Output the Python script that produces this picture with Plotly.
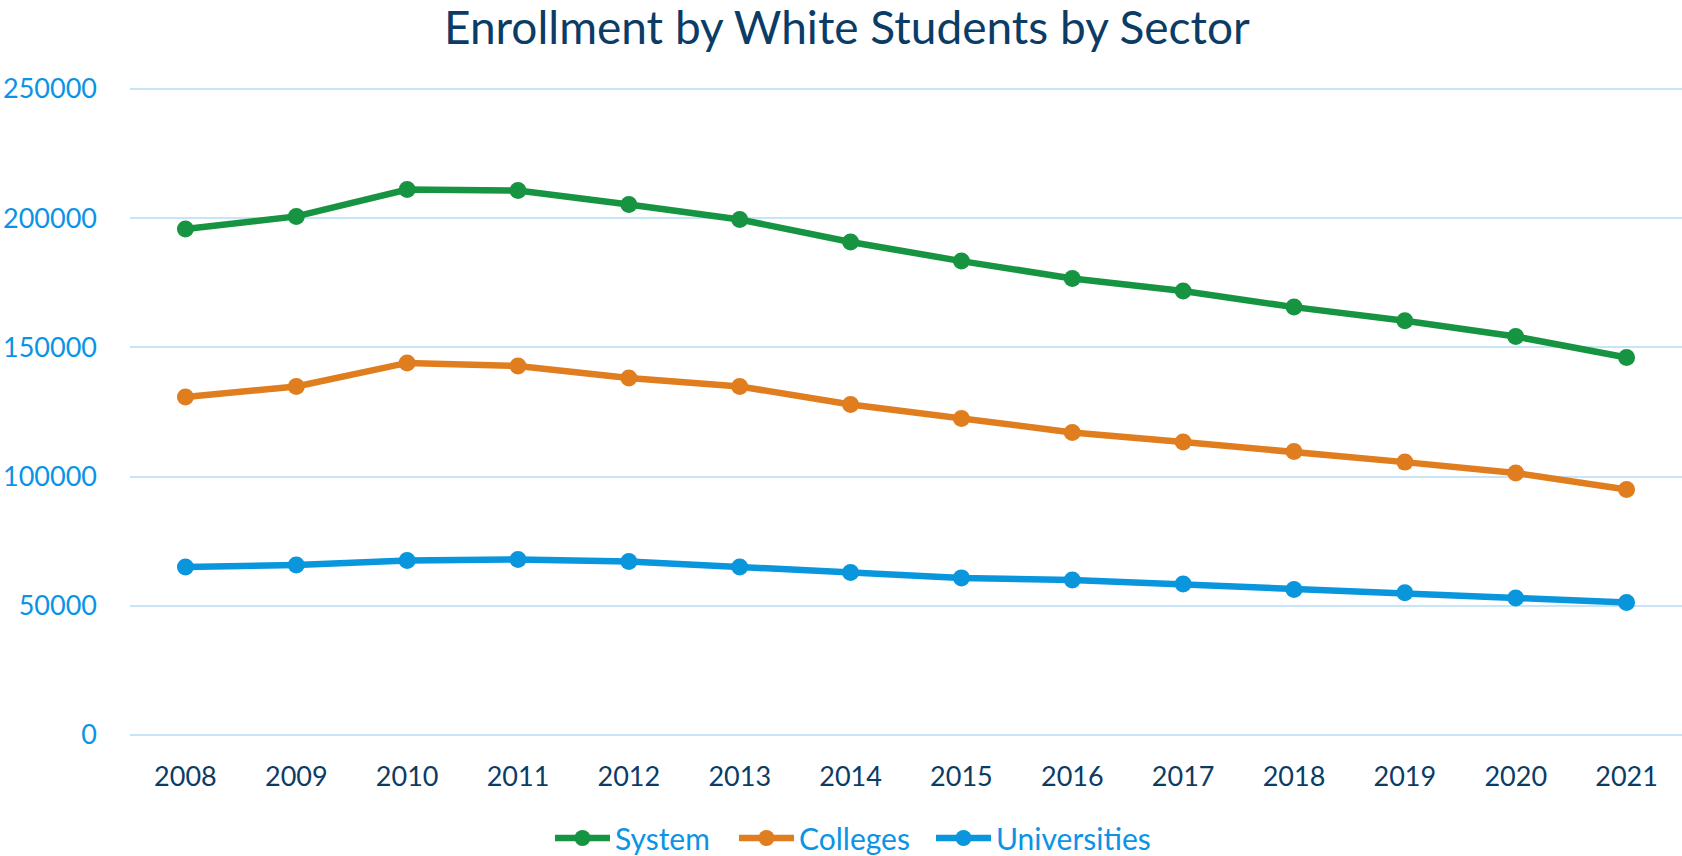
import plotly.graph_objects as go

years = ["2008", "2009", "2010", "2011", "2012", "2013", "2014",
         "2015", "2016", "2017", "2018", "2019", "2020", "2021"]
system = [195800, 200700, 211100, 210700, 205300, 199500, 190800,
          183400, 176700, 171800, 165600, 160300, 154200, 146100]
colleges = [130800, 134900, 144000, 142800, 138200, 134900, 127900,
            122500, 117100, 113400, 109700, 105600, 101400, 95000]
universities = [65000, 65800, 67500, 67900, 67100, 65000, 62900,
                60800, 60000, 58400, 56300, 55000, 53000, 51300]
y_ticks = [0, 50000, 100000, 150000, 200000, 250000]

series = [("System", system, "#179441", "legend", 550),
          ("Colleges", colleges, "#E07D1F", "legend2", 734),
          ("Universities", universities, "#0A96DC", "legend3", 931)]

FONT = "Lato"
NAVY = "#0B3C66"
BLUE = "#0A94E6"

W, H = 1682, 856

fig = go.Figure()
for name, vals, color, lg, _ in series:
    fig.add_trace(go.Scatter(
        x=years, y=vals, name=name, mode="lines+markers",
        line=dict(color=color, width=6.5),
        marker=dict(color=color, size=17),
        legend=lg,
    ))

legend_common = dict(orientation="h", xref="container", yref="container",
                     xanchor="left", y=1 - 838 / H, yanchor="middle",
                     font=dict(family=FONT, size=30, color=BLUE),
                     itemwidth=55, bgcolor="rgba(0,0,0,0)")
legends = {}
for name, vals, color, lg, lx in series:
    legends[lg] = dict(legend_common, x=lx / W)

fig.update_layout(
    width=W, height=H,
    margin=dict(l=130, r=0, t=88, b=120, autoexpand=False),
    paper_bgcolor="white", plot_bgcolor="white",
    font=dict(family=FONT, size=27, color=NAVY),
    title=dict(text="Enrollment by White Students by Sector",
               font=dict(family=FONT, size=46, color=NAVY),
               x=0.5035, xref="container", xanchor="center",
               y=1 - 28 / H, yref="container", yanchor="middle"),
    showlegend=True,
    hovermode=False,
    **legends,
)
fig.update_xaxes(type="category", range=[-0.5, 13.5], showgrid=False,
                 showline=False, zeroline=False, ticks="",
                 ticklabelstandoff=22, automargin=False,
                 tickfont=dict(family=FONT, size=27, color=NAVY))
fig.update_yaxes(range=[-400, 250400], tickvals=y_ticks,
                 ticktext=[str(v) for v in y_ticks],
                 showgrid=True, gridcolor="#C8E5F8", gridwidth=2,
                 zeroline=False, showline=False, ticks="",
                 ticklabelstandoff=32, automargin=False,
                 tickfont=dict(family=FONT, size=27, color=BLUE))

# remove the browser's default 8px body margin so the figure fills the window
fig.write_html("out.html",
               config={"displayModeBar": False},
               post_script="document.body.style.margin='0px';")
